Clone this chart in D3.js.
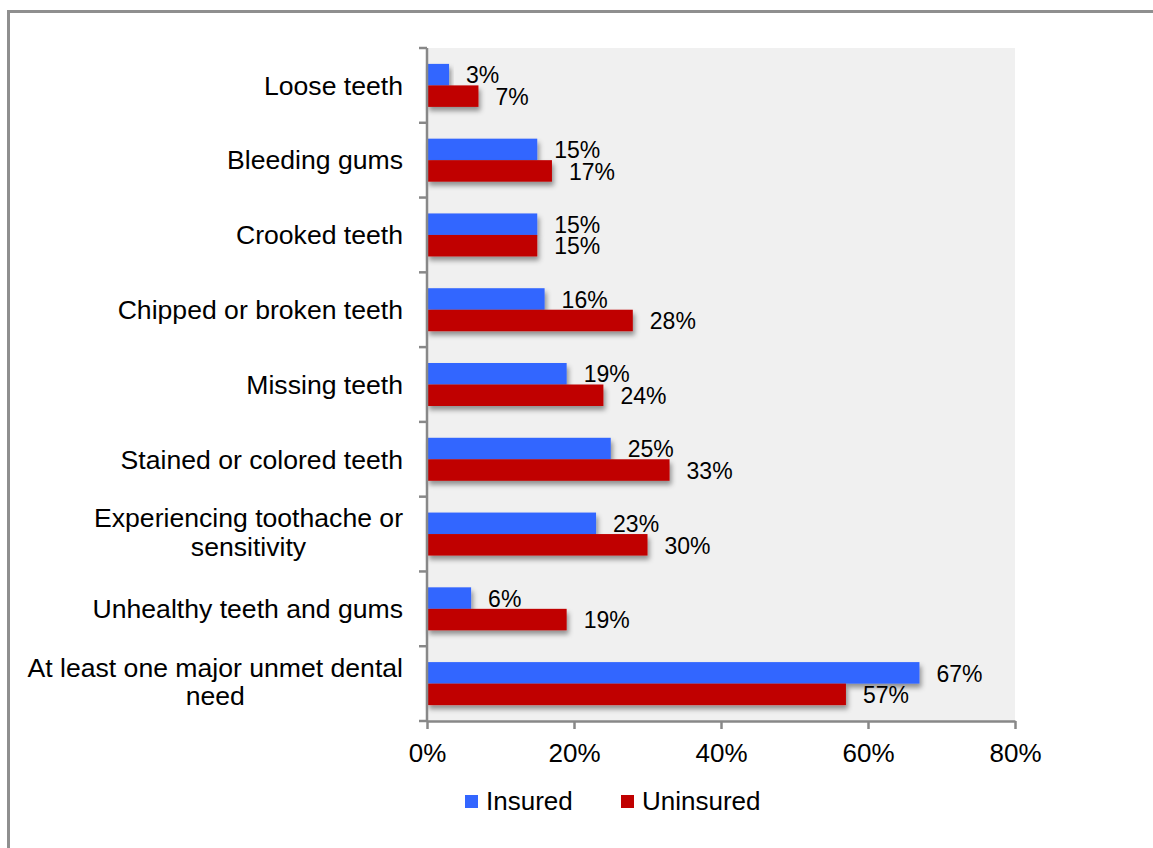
<!DOCTYPE html>
<html>
<head>
<meta charset="utf-8">
<script src="https://cdn.jsdelivr.net/npm/d3@7"></script>
<style>
  html, body { margin: 0; padding: 0; background: #fff; }
  svg { display: block; font-family: "Liberation Sans", Arial, Helvetica, sans-serif; }
</style>
</head>
<body>
<svg id="chart" width="1153" height="848"></svg>
<script>
const categories = [
  ["Loose teeth"],
  ["Bleeding gums"],
  ["Crooked teeth"],
  ["Chipped or broken teeth"],
  ["Missing teeth"],
  ["Stained or colored teeth"],
  ["Experiencing toothache or", "sensitivity"],
  ["Unhealthy teeth and gums"],
  ["At least one major unmet dental", "need"]
];
const insured   = [3, 15, 15, 16, 19, 25, 23, 6, 67];
const uninsured = [7, 17, 15, 28, 24, 33, 30, 19, 57];
const seriesNames = ["Insured", "Uninsured"];
const xTicks = [0, 20, 40, 60, 80];

const colors = ["#3366FF", "#C00000"];
const svg = d3.select("#chart");

// outer frame
svg.append("rect")
  .attr("x", 8.5).attr("y", 11.5)
  .attr("width", 1200).attr("height", 900)
  .attr("fill", "none").attr("stroke", "#8f8f8f").attr("stroke-width", 3);

const plot = { left: 427, right: 1015, top: 48, bottom: 721 };

const x = d3.scaleLinear().domain([0, 80]).range([plot.left, plot.right]);
const y = d3.scaleBand().domain(d3.range(categories.length)).range([plot.top, plot.bottom]);
const barH = 21.5;

// drop shadow filter
const defs = svg.append("defs");
const f = defs.append("filter").attr("id", "shadow")
  .attr("x", "-10%").attr("y", "-50%").attr("width", "130%").attr("height", "250%");
f.append("feDropShadow").attr("dx", 2).attr("dy", 4).attr("stdDeviation", 2.5)
  .attr("flood-color", "#000").attr("flood-opacity", 0.4);

// plot background
svg.append("rect")
  .attr("x", plot.left).attr("y", plot.top)
  .attr("width", plot.right - plot.left).attr("height", plot.bottom - plot.top)
  .attr("fill", "#F0F0F0");

const series = [insured, uninsured];
series.forEach((vals, si) => {
  const g = svg.append("g");
  g.selectAll("rect").data(vals).enter().append("rect")
    .attr("x", x(0))
    .attr("y", (d, i) => y(i) + y.bandwidth() / 2 - barH + si * barH)
    .attr("width", d => x(d) - x(0))
    .attr("height", barH)
    .attr("fill", colors[si])
    .attr("filter", "url(#shadow)");
});

// data labels
series.forEach((vals, si) => {
  svg.append("g").selectAll("text").data(vals).enter().append("text")
    .attr("x", d => x(d) + 17)
    .attr("y", (d, i) => y(i) + y.bandwidth() / 2 - barH + si * barH + barH / 2)
    .attr("dy", "0.38em")
    .attr("font-size", 23)
    .attr("fill", "#000")
    .text(d => d + "%");
});

// x axis
const xAxis = d3.axisBottom(x).tickValues(xTicks).tickFormat(d => d + "%").tickSize(8).tickSizeOuter(0);
const gx = svg.append("g").attr("transform", `translate(0,${plot.bottom})`).call(xAxis);
gx.select(".domain").attr("stroke", "#888").attr("stroke-width", 2.5);
gx.selectAll(".tick line").attr("stroke", "#888").attr("stroke-width", 2.5);
gx.selectAll(".tick text").attr("font-size", 26).attr("font-family", "Liberation Sans, Arial, sans-serif")
  .attr("fill", "#000").attr("y", 23).attr("dy", "0.71em");

// y axis line and category-boundary ticks
const yb = d3.range(categories.length + 1).map(i => plot.top + i * y.step());
svg.append("line").attr("x1", plot.left).attr("x2", plot.left)
  .attr("y1", plot.top).attr("y2", plot.bottom)
  .attr("stroke", "#888").attr("stroke-width", 2.5);
svg.append("g").selectAll("line").data(yb).enter().append("line")
  .attr("x1", plot.left - 8).attr("x2", plot.left)
  .attr("y1", d => d).attr("y2", d => d)
  .attr("stroke", "#888").attr("stroke-width", 2.5);

// category labels
const lineH = 28.5;
const catFont = 26.6;
const catG = svg.append("g");
categories.forEach((lines, i) => {
  const cy = y(i) + y.bandwidth() / 2;
  const t = catG.append("text")
    .attr("font-size", catFont).attr("fill", "#000")
    .attr("text-anchor", lines.length > 1 ? "middle" : "end");
  if (lines.length === 1) {
    t.attr("x", 403).attr("y", cy).attr("dy", "0.35em").text(lines[0]);
  } else {
    const tmp = catG.append("text").attr("font-size", catFont).text(lines[0]);
    const w = tmp.node().getComputedTextLength();
    tmp.remove();
    const cx = 403 - w / 2;
    lines.forEach((ln, k) => {
      t.append("tspan").attr("x", cx)
        .attr("y", cy + (k - (lines.length - 1) / 2) * lineH - 2)
        .attr("dy", "0.35em").text(ln);
    });
  }
});

// legend
const legendX = [465, 621];
const lg = svg.append("g");
seriesNames.forEach((name, i) => {
  lg.append("rect").attr("x", legendX[i]).attr("y", 795).attr("width", 13).attr("height", 13).attr("fill", colors[i]);
  lg.append("text").attr("x", legendX[i] + 21).attr("y", 810).attr("font-size", 26).attr("fill", "#000").text(name);
});
</script>
</body>
</html>
